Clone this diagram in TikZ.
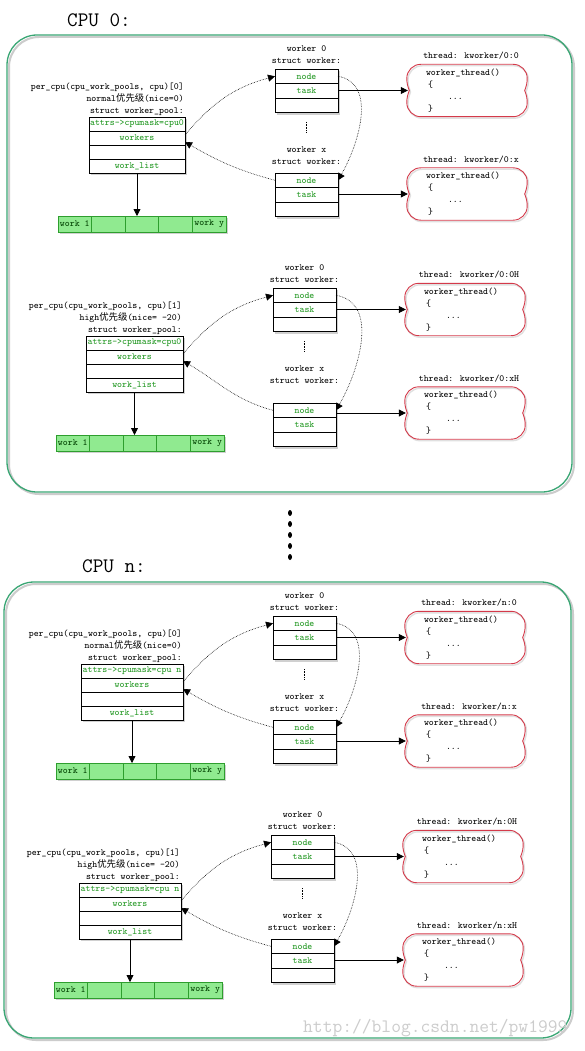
\documentclass[tikz,border=0pt]{standalone}
\usepackage{fontspec}
\newfontfamily\cjk{Noto Sans CJK SC}
\usetikzlibrary{positioning,arrows.meta,shadows}

\definecolor{framegreen}{RGB}{58,166,116}
\definecolor{fieldgreen}{RGB}{30,150,30}
\definecolor{listfill}{RGB}{144,234,144}
\definecolor{listline}{RGB}{46,158,46}
\definecolor{cloudred}{RGB}{212,58,74}

\tikzset{
  small/.style={font=\ttfamily\fontsize{9.4}{12}\selectfont},
  boxshade/.style={drop shadow={shadow xshift=2pt,shadow yshift=-2pt,opacity=0.3,fill=black!60}},
  prow/.style={small,draw,fill=white,boxshade,line width=0.8pt,text=fieldgreen,
    minimum height=14pt,inner xsep=1pt,inner ysep=0pt,outer sep=0pt},
  wrow/.style={prow,minimum width=63pt,minimum height=14.6pt},
  wcell/.style={small,draw=listline,fill=listfill,boxshade,line width=0.8pt,text=green!25!black,
    minimum width=33.6pt,minimum height=16pt,inner sep=1pt,outer sep=0pt},
  wcap/.style={small,align=center,inner sep=1pt},
  threadbox/.style={minimum width=118pt,minimum height=52pt,inner sep=0pt},
  cloudline/.style={draw=cloudred,line width=0.9pt,
    preaction={draw=black!12,line width=1.4pt,transform canvas={xshift=1.2pt,yshift=-1.5pt}}},
  arr/.style={line width=0.8pt,-{Triangle[length=7pt,width=7pt]}},
  ptr/.style={line width=0.6pt,densely dotted,-{Triangle[length=7pt,width=7pt]}},
  cpuframe/.style={draw=framegreen,line width=1.3pt,rounded corners=30pt,
    preaction={draw=black!20,line width=2pt,transform canvas={xshift=2pt,yshift=-2pt}}},
}

% outline of a thread box, from the anchors of its node
\newcommand{\drawcloud}[1]{%
  \draw[cloudline] ([xshift=13pt]#1.north west) -- ([xshift=-13pt]#1.north east)
    to[out=0,in=90] ([xshift=1pt,yshift=-14pt]#1.north east)
    to[out=-90,in=70] ([xshift=-1.5pt]#1.east)
    to[out=-70,in=90] ([xshift=1pt,yshift=14pt]#1.south east)
    to[out=-90,in=0] ([xshift=-13pt]#1.south east)
    -- ([xshift=13pt]#1.south west)
    to[out=180,in=-90] ([xshift=-1pt,yshift=14pt]#1.south west)
    to[out=90,in=-110] ([xshift=1.5pt]#1.west)
    to[out=110,in=-90] ([xshift=-1pt,yshift=-14pt]#1.north west)
    to[out=90,in=180] cycle;}

% one worker_pool with its workers, threads and work list
% #1 prefix, #2 shift, #3 pool width, #4 index, #5 priority, #6 cpumask,
% #7 cpu id, #8 suffix, #9 extra drop of worker x
\newcommand{\poolgroup}[9]{%
\begin{scope}[shift={#2}]
  \node[wrow,anchor=north west] (#1a1) at (0,0) {node};
  \node[wrow,below=0pt of #1a1] (#1a2) {task};
  \node[wrow,below=0pt of #1a2] (#1a3) {};
  \node[wcap,above=4pt of #1a1] {worker 0\\struct worker:};
  \draw[line width=0.6pt,densely dotted] (31.5,-53) -- (31.5,-64);
  \node[wcap] at (31.5,-87) {worker x\\struct worker:};
  \node[wrow,anchor=north west] (#1b1) at (0,{-104-#9}) {node};
  \node[wrow,below=0pt of #1b1] (#1b2) {task};
  \node[wrow,below=0pt of #1b2] (#1b3) {};
  % pool
  \node[prow,anchor=north east,minimum width=#3] (#1p1) at (-90,-48) {attrs->cpumask=#6};
  \node[prow,minimum width=#3,below=0pt of #1p1] (#1p2) {workers};
  \node[prow,minimum width=#3,below=0pt of #1p2] (#1p3) {};
  \node[prow,minimum width=#3,below=0pt of #1p3] (#1p4) {work\_list};
  \node[small,anchor=south east,align=right,inner sep=1pt] at ([yshift=0pt]#1p1.north east)
    {per\_cpu(cpu\_work\_pools, cpu)[#4]\\#5\\struct worker\_pool:};
  % work list
  \node[wcell,anchor=north west] (#1w1) at (-217,-147) {work 1};
  \node[wcell,right=0pt of #1w1] (#1w2) {};
  \node[wcell,right=0pt of #1w2] (#1w3) {};
  \node[wcell,right=0pt of #1w3] (#1w4) {};
  \node[wcell,right=0pt of #1w4] (#1w5) {\raisebox{-3pt}{work y}};
  \draw[arr] (#1p4.south) -- (#1p4.south |- #1w1.north);
  % threads
  \node[threadbox] (#1t1) at (192,-21.5) {};
  \node[threadbox] (#1t2) at (192,-125) {};
  \drawcloud{#1t1}
  \drawcloud{#1t2}
  \node[small,above=1pt of #1t1,xshift=4pt] {thread: kworker/#7:0#8};
  \node[small,above=1pt of #1t2,xshift=4pt] {thread: kworker/#7:x#8};
  \node[small,anchor=north west,align=left,inner sep=0pt] at ([xshift=18pt,yshift=-4pt]#1t1.north west)
    {worker\_thread()\\\hspace{2pt}\{\\\hspace{22pt}...\\\hspace{2pt}\}};
  \node[small,anchor=north west,align=left,inner sep=0pt] at ([xshift=18pt,yshift=-4pt]#1t2.north west)
    {worker\_thread()\\\hspace{2pt}\{\\\hspace{22pt}...\\\hspace{2pt}\}};
  % links
  \draw[arr] (#1a2.east |- #1t1.west) -- (#1t1.west);
  \draw[arr] (#1b2.east |- #1t2.west) -- (#1t2.west);
  \draw[ptr] ([yshift=3pt]#1p2.east) to[out=50,in=195] (#1a1.west);
  \draw[ptr] (#1b1.west) to[out=165,in=-30] ([yshift=-4pt]#1p2.east);
  \draw[ptr] (#1a1.east) to[out=-10,in=60] (#1b1.east);
\end{scope}}

\begin{document}
\begin{tikzpicture}[x=1pt,y=1pt]
  \useasboundingbox (0,0) rectangle (584,-1051);
  \fill[white] (0,0) rectangle (584,-1051);
  % CPU 0
  \node[font=\ttfamily\fontsize{20.6}{24}\selectfont] (cpu0) at (99,-20) {CPU 0:};
  \draw[cpuframe] (7,-35) rectangle (572,-492);
  \poolgroup{a}{(275,-69)}{96pt}{0}{normal{\cjk 优先级}(nice=0)}{cpu0}{0}{}{0}
  \poolgroup{b}{(273,-288)}{97pt}{1}{high{\cjk 优先级}(nice= -20)}{cpu0}{0}{H}{11}
  % gap between the cpus
  \foreach \y in {513,524,535,546,557}
    \fill (290,-\y) ellipse (2pt and 3pt);
  % CPU n
  \node[font=\ttfamily\fontsize{20.6}{24}\selectfont] (cpun) at (114,-566) {CPU n:};
  \draw[cpuframe] (4,-582) rectangle (571,-1038);
  \poolgroup{c}{(273,-616)}{102pt}{0}{normal{\cjk 优先级}(nice=0)}{cpu n}{n}{}{0}
  \poolgroup{d}{(271,-835)}{102pt}{1}{high{\cjk 优先级}(nice= -20)}{cpu n}{n}{H}{0}
  \node[font=\ttfamily\fontsize{19}{22}\selectfont,text=black!20,anchor=west,inner sep=0pt]
    (mark) at (303,-1028) {http://blog.csdn.net/pw1999};
\end{tikzpicture}
\end{document}
